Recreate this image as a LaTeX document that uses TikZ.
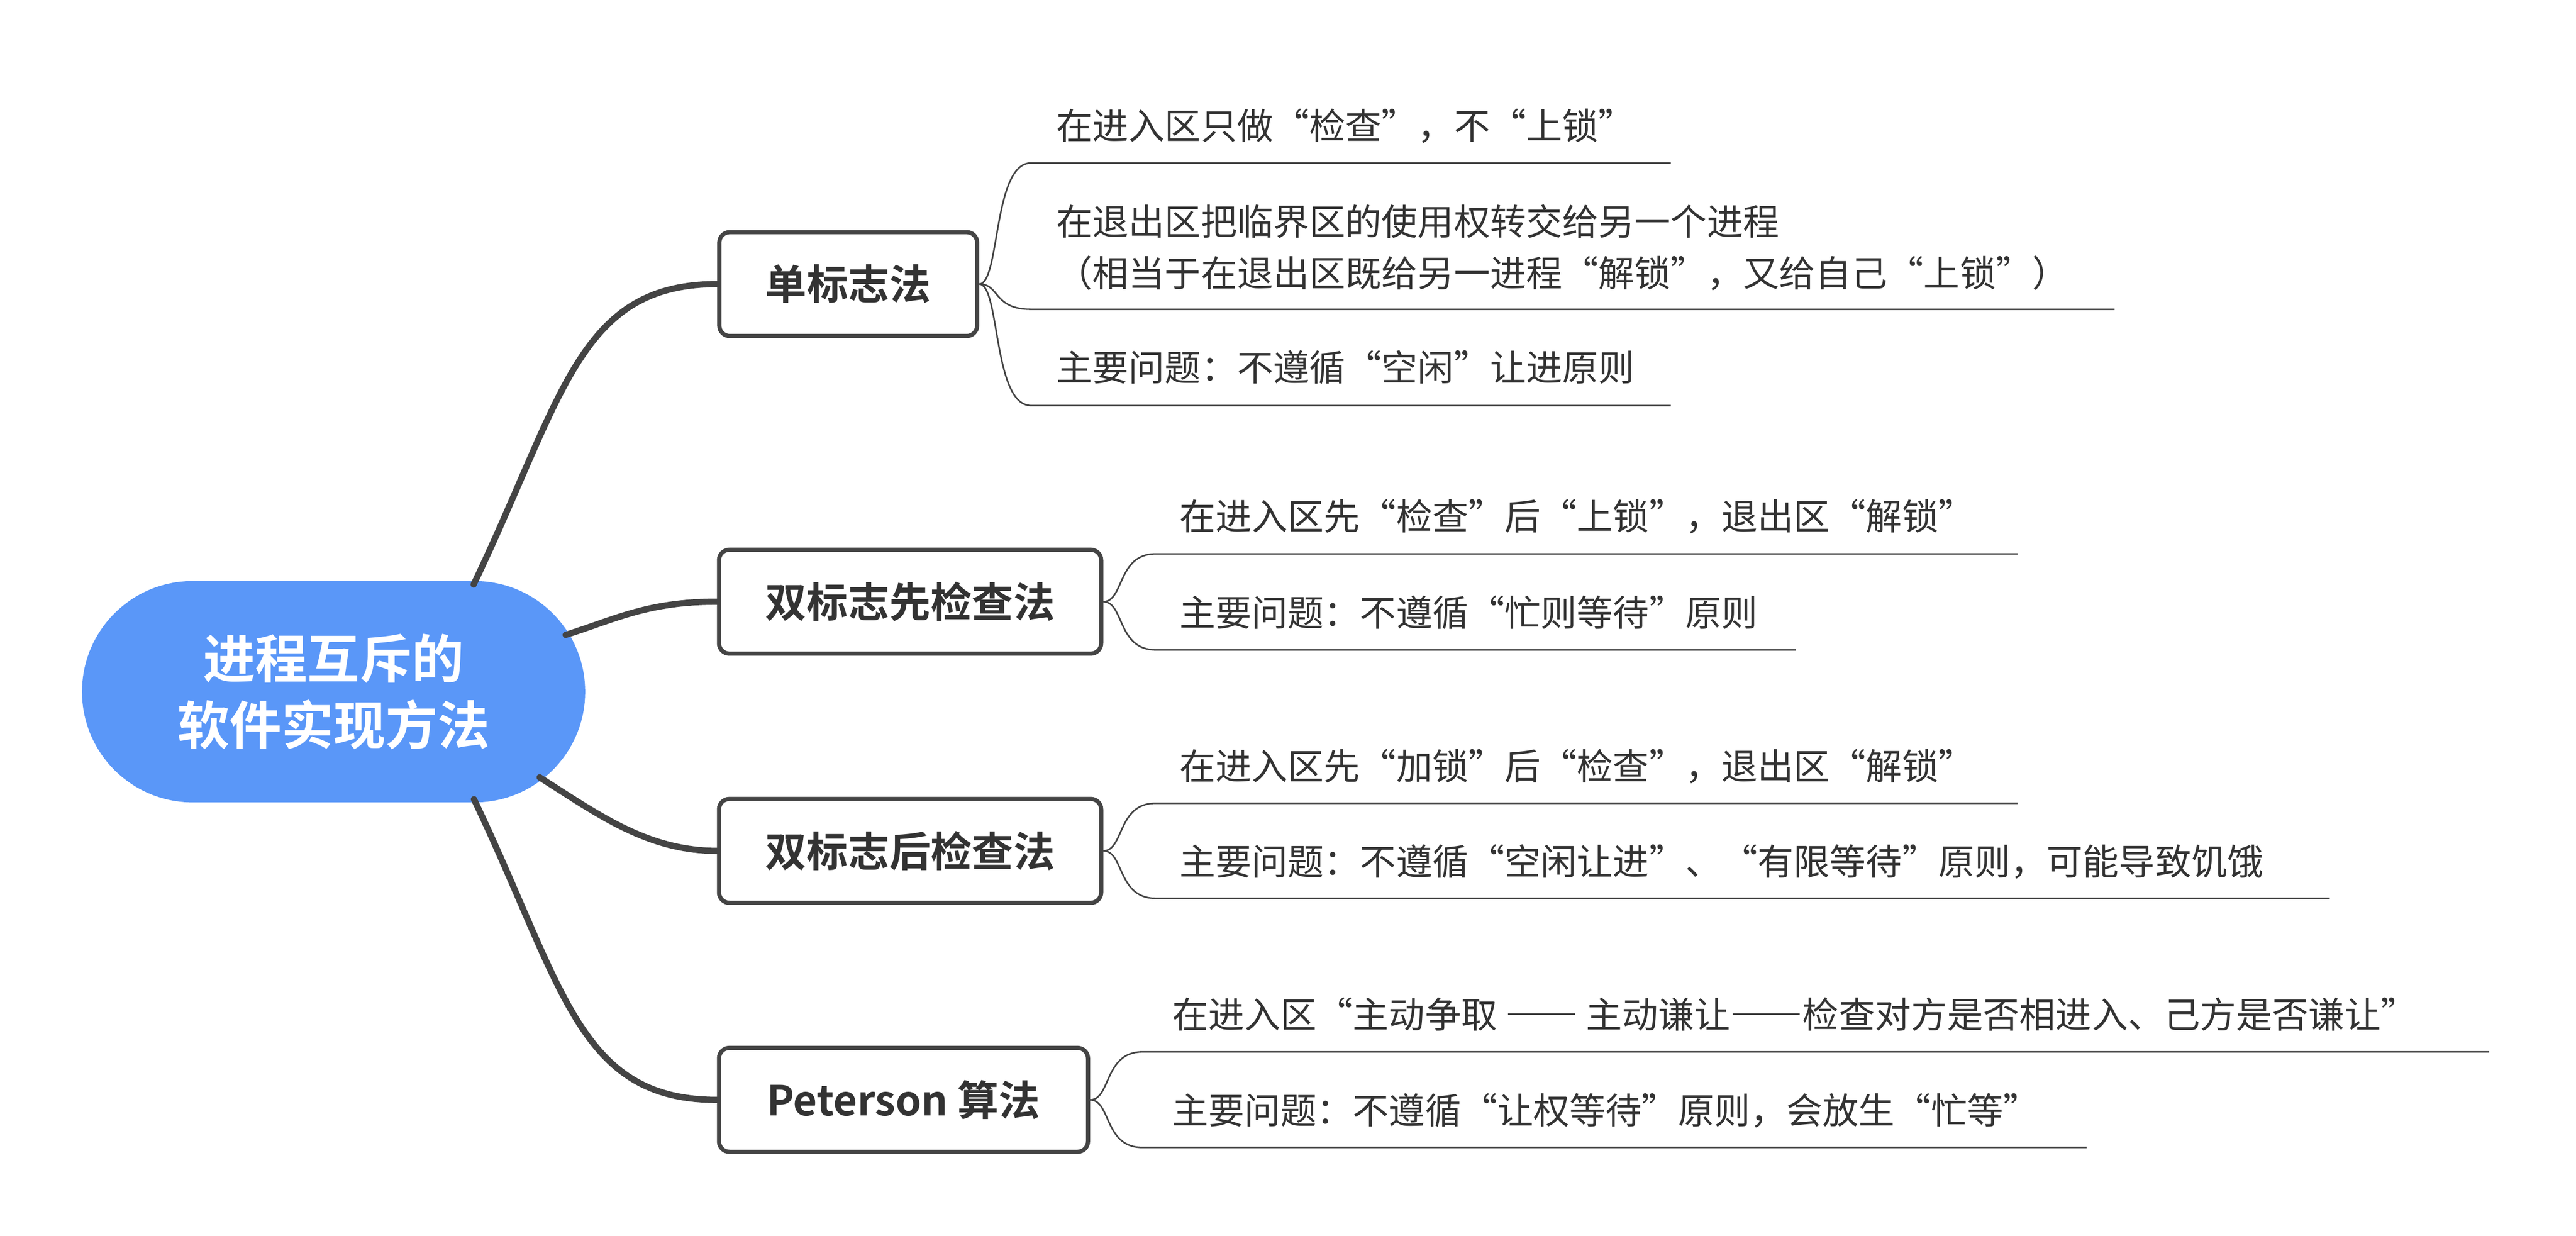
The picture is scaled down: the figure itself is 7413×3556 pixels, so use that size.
\documentclass[tikz,border=0pt]{standalone}
\usepackage{fontspec}
\setmainfont{Noto Sans CJK SC}[BoldFont={Noto Sans CJK SC Bold}]
\usetikzlibrary{shapes.misc}
\definecolor{rootblue}{HTML}{5A97F8}
\definecolor{edgegray}{HTML}{444444}
\definecolor{txtgray}{HTML}{333333}
\newcommand{\fwdash}{{\addfontfeature{RawFeature=+fwid}——}}
\begin{document}
\begin{tikzpicture}[x=0.1pt,y=-0.1pt,
  rootnode/.style={rounded rectangle, fill=rootblue, draw=none, minimum width=144.8pt, minimum height=63.7pt, inner sep=0pt, text=white, font=\bfseries\fontsize{15pt}{19.2pt}\selectfont, align=center},
  branch/.style={draw=edgegray, line width=1.2pt, fill=white, rounded corners=3pt, minimum height=29.9pt, inner sep=0pt, text=txtgray, font=\bfseries\fontsize{11.9pt}{14pt}\selectfont},
  leaf/.style={anchor=base west, inner sep=0pt, text=txtgray, font=\fontsize{10.4pt}{14.8pt}\selectfont},
  trunk/.style={draw=edgegray, line width=1.8pt, line cap=round},
  twig/.style={draw=edgegray, line width=0.45pt},
]
\useasboundingbox (0,0) rectangle (7413,3556);
\fill[white] (0,0) rectangle (7413,3556);

% root and branches
\node[rootnode] (root) at (960,1990.5) {进程互斥的\\软件实现方法};
\node[branch, minimum width=74.2pt] (b1) at (2441,817.5) {单标志法};
\node[branch, minimum width=110pt] (b2) at (2619,1731.5) {双标志先检查法};
\node[branch, minimum width=110pt] (b3) at (2619,2448.5) {双标志后检查法};
\node[branch, minimum width=106.2pt] (b4) at (2600,3165) {Peterson 算法};

% attachment points on the root
\coordinate (r1) at (1363,1682);
\coordinate (r2) at (1628,1827);
\coordinate (r3) at (1553,2237);
\coordinate (r4) at (1364,2300);

\draw[trunk] (r1) .. controls +(258,-540) and +(-400,0) .. (b1.west);
\draw[trunk] (r2) .. controls +(143,-45) and +(-200,0) .. (b2.west);
\draw[trunk] (r3) .. controls +(169,107) and +(-200,0) .. (b3.west);
\draw[trunk] (r4) .. controls +(258,540) and +(-400,0) .. (b4.west);

% leaf underline coordinates
\coordinate (s11) at (2967,469);  \coordinate (e11) at (4808,469);
\coordinate (s12) at (2967,890);  \coordinate (e12) at (6085,890);
\coordinate (s13) at (2967,1167); \coordinate (e13) at (4808,1167);
\coordinate (s21) at (3325,1594); \coordinate (e21) at (5806,1594);
\coordinate (s22) at (3325,1870); \coordinate (e22) at (5168,1870);
\coordinate (s31) at (3325,2311.5); \coordinate (e31) at (5806,2311.5);
\coordinate (s32) at (3325,2585); \coordinate (e32) at (6704,2585);
\coordinate (s41) at (3287,3027); \coordinate (e41) at (7163,3027);
\coordinate (s42) at (3287,3302); \coordinate (e42) at (6005,3302);

\foreach \b/\l in {b1/11,b1/12,b1/13,b2/21,b2/22,b3/31,b3/32,b4/41,b4/42}
  \draw[twig] (\b.east) .. controls +(60,0) and +(-110,0) .. (s\l) -- (e\l);

% leaf texts
\node[leaf] (t11) at (3038,400.5) {在进入区只做“检查”，不“上锁”};
\node[leaf] (t12) at (3038,677.5) {在退出区把临界区的使用权转交给另一个进程};
\node[leaf] (t12b) at (3038,825.5) {（相当于在退出区既给另一进程“解锁”，又给自己“上锁”）};
\node[leaf] (t13) at (3038,1096.5) {主要问题：不遵循“空闲”让进原则};
\node[leaf] (t21) at (3392,1525.5) {在进入区先“检查”后“上锁”，退出区“解锁”};
\node[leaf] (t22) at (3392,1802.5) {主要问题：不遵循“忙则等待”原则};
\node[leaf] (t31) at (3392,2243.5) {在进入区先“加锁”后“检查”，退出区“解锁”};
\node[leaf] (t32) at (3392,2517.5) {主要问题：不遵循“空闲让进”、“有限等待”原则，可能导致饥饿};
\node[leaf] (t41) at (3371,2958.5) {在进入区“主动争取 \fwdash{} 主动谦让\fwdash{}检查对方是否相进入、己方是否谦让”};
\node[leaf] (t42) at (3371,3234.5) {主要问题：不遵循“让权等待”原则，会放生“忙等”};
\end{tikzpicture}
\end{document}
